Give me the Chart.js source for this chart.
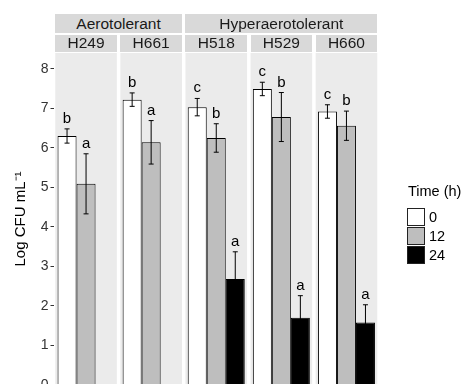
<!DOCTYPE html>
<html>
<head>
<meta charset="utf-8">
<script src="https://cdn.jsdelivr.net/npm/chart.js@4/dist/chart.umd.min.js"></script>
<style>
  html, body { margin: 0; padding: 0; background: #ffffff; }
  #wrap { position: relative; width: 468px; height: 384px; overflow: hidden; background: #fff;
          font-family: "Liberation Sans", Arial, sans-serif; }
  #c { position: absolute; left: 0; top: 0; }
  .strip { position: absolute; background: #d9d9d9; color: #1a1a1a; text-align: center;
           font-size: 15.5px; white-space: nowrap; }
  .legtitle { position: absolute; font-size: 14.5px; color: #000; white-space: nowrap; }
  .key { position: absolute; width: 16px; height: 16px; border: 1px solid #222; }
  .klab { position: absolute; font-size: 14.5px; color: #000; }
</style>
</head>
<body>
<div id="wrap">
  <canvas id="c" width="468" height="400"></canvas>
</div>
<script>
// ---- data ----
const categories = ['H249', 'H661', 'H518', 'H529', 'H660'];
const groupNames = ['Aerotolerant', 'Hyperaerotolerant'];
const groupSpans = [[0, 1], [2, 4]];
const timeLabels = ['0', '12', '24'];
const t0 = [6.30, 7.22, 7.03, 7.49, 6.92];
const t0Err = [0.18, 0.17, 0.22, 0.17, 0.17];
const t12 = [5.09, 6.14, 6.25, 6.78, 6.56];
const t12Err = [0.76, 0.55, 0.36, 0.62, 0.37];
const t24 = [null, null, 2.68, 1.70, 1.58];
const t24Err = [null, null, 0.69, 0.56, 0.45];
const letters0 = ['b', 'b', 'c', 'c', 'c'];
const letters12 = ['a', 'a', 'b', 'b', 'b'];
const letters24 = [null, null, 'a', 'a', 'a'];
const yTicks = [0, 1, 2, 3, 4, 5, 6, 7, 8];

const FONT = '"Liberation Sans", Arial, sans-serif';
const fills = ['#ffffff', '#bebebe', '#000000'];
const errs = [t0Err, t12Err, t24Err];
const letters = [letters0, letters12, letters24];
const GAP = 3.5;

const panelPlugin = {
  id: 'panels',
  beforeDatasetsDraw(chart) {
    const { ctx, chartArea } = chart;
    const w = (chartArea.right - chartArea.left) / categories.length;
    ctx.save();
    ctx.fillStyle = '#ebebeb';
    for (let i = 0; i < categories.length; i++) {
      const x0 = chartArea.left + i * w + GAP / 2;
      ctx.fillRect(x0, chartArea.top, w - GAP, chart.height - chartArea.top);
    }
    ctx.restore();
  }
};

const errPlugin = {
  id: 'errs',
  afterDatasetsDraw(chart) {
    const { ctx } = chart;
    const y = chart.scales.y;
    ctx.save();
    chart.data.datasets.forEach((ds, d) => {
      const meta = chart.getDatasetMeta(d);
      meta.data.forEach((el, i) => {
        const v = ds.data[i];
        if (v == null) return;
        const e = errs[d][i];
        const yt = y.getPixelForValue(v + e);
        const yb = y.getPixelForValue(v - e);
        ctx.strokeStyle = '#000';
        ctx.lineWidth = 1;
        ctx.beginPath();
        ctx.moveTo(el.x, yt); ctx.lineTo(el.x, yb);
        ctx.moveTo(el.x - 2.5, yt); ctx.lineTo(el.x + 2.5, yt);
        ctx.moveTo(el.x - 2.5, yb); ctx.lineTo(el.x + 2.5, yb);
        ctx.stroke();
        const L = letters[d][i];
        if (L) {
          ctx.fillStyle = '#000';
          ctx.font = '15px ' + FONT;
          ctx.textAlign = 'center';
          ctx.textBaseline = 'alphabetic';
          ctx.fillText(L, el.x, yt - 6);
        }
      });
    });
    ctx.restore();
  }
};

const chart = new Chart(document.getElementById('c'), {
  type: 'bar',
  data: {
    labels: categories,
    datasets: [
      { label: timeLabels[0], data: t0, backgroundColor: fills[0], borderColor: '#000', borderWidth: 1 },
      { label: timeLabels[1], data: t12, backgroundColor: fills[1], borderColor: '#000', borderWidth: 1 },
      { label: timeLabels[2], data: t24, backgroundColor: fills[2], borderColor: '#000', borderWidth: 1 }
    ]
  },
  options: {
    responsive: false,
    animation: false,
    layout: { padding: { left: 8, top: 53, right: 89, bottom: 15 } },
    datasets: { bar: { categoryPercentage: 0.876, barPercentage: 1.0 } },
    plugins: { legend: { display: false }, tooltip: { enabled: false } },
    scales: {
      x: { display: false, offset: true },
      y: {
        min: 0, max: 8.4,
        afterFit(scale) { scale.width = 45.5; },
        afterBuildTicks(scale) { scale.ticks = yTicks.map(v => ({ value: v })); },
        border: { display: false },
        grid: { drawOnChartArea: false, drawTicks: true, tickLength: 3, color: '#333' },
        ticks: { color: '#333', padding: 2, font: { size: 14, family: FONT } },
        title: { display: true, text: 'Log CFU mL\u207B\u00B9', color: '#000',
                 font: { size: 15, family: FONT }, padding: { top: 4, bottom: 0 } }
      }
    }
  },
  plugins: [panelPlugin, errPlugin]
});

// ---- strips & legend (HTML text positioned from the chart's scale) ----
const wrap = document.getElementById('wrap');
const ca = chart.chartArea;
const cw = (ca.right - ca.left) / categories.length;
function addStrip(text, i0, i1, top, h) {
  const d = document.createElement('div');
  d.className = 'strip';
  const x0 = ca.left + i0 * cw + GAP / 2;
  const x1 = ca.left + (i1 + 1) * cw - GAP / 2;
  d.style.left = x0 + 'px';
  d.style.width = (x1 - x0) + 'px';
  d.style.top = top + 'px';
  d.style.height = h + 'px';
  d.style.lineHeight = h + 'px';
  d.textContent = text;
  wrap.appendChild(d);
}
groupNames.forEach((g, k) => addStrip(g, groupSpans[k][0], groupSpans[k][1], 14, 19));
categories.forEach((c, i) => addStrip(c, i, i, 35, 16.5));

const lt = document.createElement('div');
lt.className = 'legtitle';
lt.style.left = '408px'; lt.style.top = '183px';
lt.textContent = 'Time (h)';
wrap.appendChild(lt);
timeLabels.forEach((t, k) => {
  const b = document.createElement('div');
  b.className = 'key';
  b.style.left = '407px'; b.style.top = (208 + k * 19) + 'px';
  b.style.background = fills[k];
  wrap.appendChild(b);
  const l = document.createElement('div');
  l.className = 'klab';
  l.style.left = '429px'; l.style.top = (208 + k * 19) + 'px';
  l.style.lineHeight = '18px';
  l.textContent = t;
  wrap.appendChild(l);
});
</script>
</body>
</html>
